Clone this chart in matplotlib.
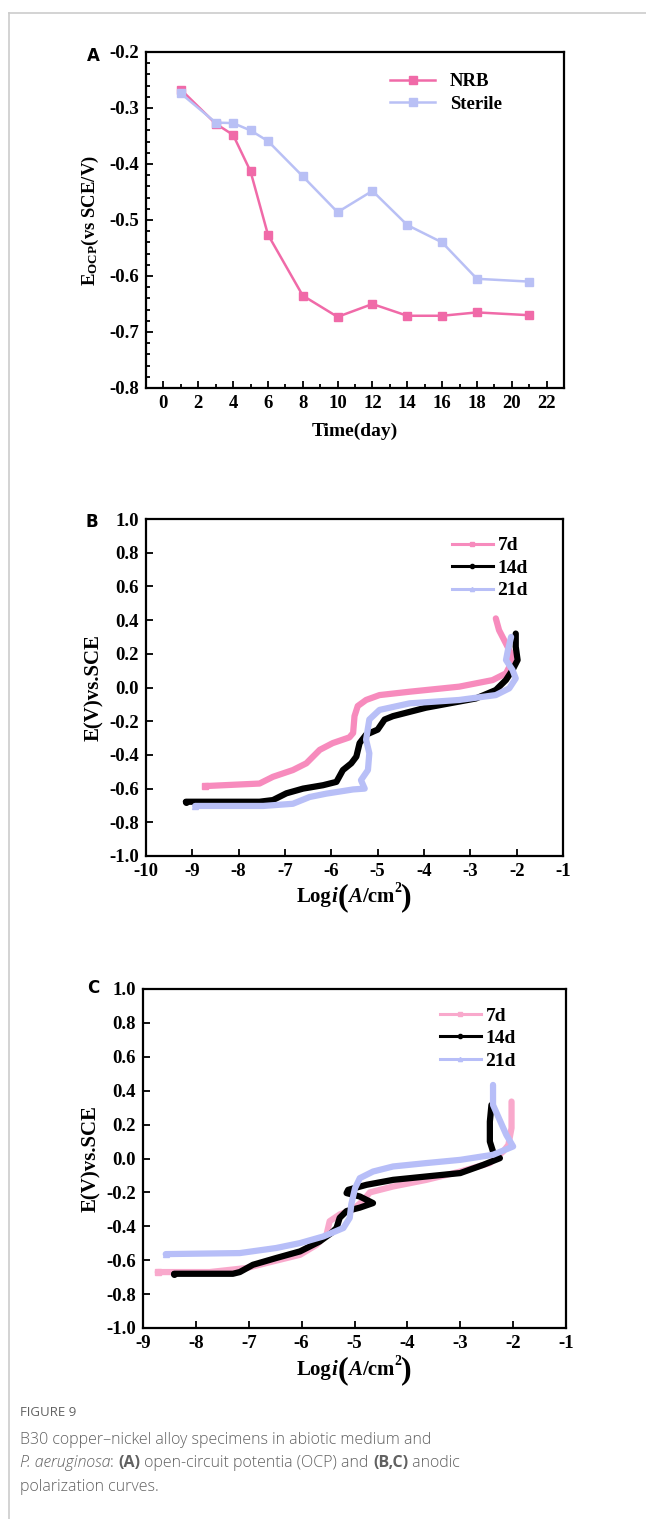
import numpy as np
import matplotlib
matplotlib.use("Agg")
import matplotlib.pyplot as plt
from matplotlib.ticker import AutoMinorLocator
from matplotlib.lines import Line2D

plt.rcParams['font.family'] = 'Liberation Serif'
plt.rcParams['font.weight'] = 'bold'
plt.rcParams['mathtext.fontset'] = 'custom'
plt.rcParams['mathtext.rm'] = 'Liberation Serif:bold'
plt.rcParams['mathtext.it'] = 'Liberation Serif:bold:italic'
plt.rcParams['mathtext.bf'] = 'Liberation Serif:bold'

# panel A: OCP vs time
days_nrb = [1, 3, 4, 5, 6, 8, 10, 12, 14, 16, 18, 21]
ocp_nrb = [-0.267, -0.328, -0.348, -0.413, -0.526, -0.635, -0.673, -0.650, -0.671, -0.671, -0.665, -0.670]
days_ster = [1, 3, 4, 5, 6, 8, 10, 12, 14, 16, 18, 21]
ocp_ster = [-0.274, -0.326, -0.327, -0.340, -0.359, -0.422, -0.486, -0.448, -0.509, -0.540, -0.605, -0.610]

b7_x = [-8.72, -7.55, -7.26, -6.83, -6.54, -6.25, -5.97, -5.61, -5.53, -5.50, -5.43, -5.25, -4.96, -4.31, -3.24, -2.52, -2.23, -2.12, -2.12, -2.23, -2.38, -2.45]
b7_y = [-0.585, -0.570, -0.530, -0.490, -0.450, -0.370, -0.330, -0.296, -0.270, -0.170, -0.110, -0.074, -0.045, -0.025, 0.005, 0.044, 0.084, 0.143, 0.200, 0.260, 0.340, 0.410]
b14_x = [-9.14, -7.55, -7.26, -6.97, -6.61, -6.18, -5.89, -5.75, -5.57, -5.46, -5.39, -5.25, -5.00, -4.85, -4.67, -3.96, -2.88, -2.45, -2.23, -2.09, -1.98, -2.02, -2.02]
b14_y = [-0.678, -0.678, -0.668, -0.628, -0.600, -0.580, -0.560, -0.490, -0.450, -0.410, -0.330, -0.280, -0.250, -0.190, -0.170, -0.120, -0.065, -0.015, 0.045, 0.104, 0.163, 0.242, 0.320]
b21_x = [-8.94, -7.47, -6.83, -6.47, -6.11, -5.53, -5.28, -5.36, -5.21, -5.18, -5.25, -5.18, -4.96, -4.31, -3.24, -2.45, -2.16, -2.02, -2.09, -2.23, -2.19, -2.12]
b21_y = [-0.703, -0.703, -0.690, -0.650, -0.630, -0.605, -0.600, -0.550, -0.490, -0.390, -0.310, -0.190, -0.133, -0.094, -0.074, -0.045, -0.005, 0.054, 0.104, 0.163, 0.220, 0.300]

# panel C
c7_x = [-8.72, -7.74, -7.04, -6.54, -6.03, -5.72, -5.53, -5.47, -5.28, -5.03, -4.84, -4.71, -4.27, -3.64, -3.00, -2.44, -2.19, -2.09, -2.03, -2.03]
c7_y = [-0.670, -0.670, -0.646, -0.607, -0.568, -0.510, -0.450, -0.370, -0.330, -0.300, -0.250, -0.200, -0.165, -0.126, -0.077, -0.027, 0.041, 0.080, 0.180, 0.336]
c14_x = [-8.41, -7.30, -7.17, -6.92, -6.48, -6.03, -5.66, -5.44, -5.34, -5.28, -5.15, -4.90, -4.65, -4.90, -5.15, -5.12, -4.77, -4.27, -3.64, -3.00, -2.56, -2.25, -2.38, -2.44, -2.44, -2.41]
c14_y = [-0.680, -0.680, -0.670, -0.627, -0.587, -0.548, -0.490, -0.440, -0.410, -0.350, -0.310, -0.290, -0.263, -0.224, -0.204, -0.185, -0.155, -0.126, -0.106, -0.086, -0.037, 0.002, 0.041, 0.100, 0.218, 0.316]
c21_x = [-8.57, -7.17, -6.48, -6.03, -5.59, -5.21, -5.09, -5.06, -4.99, -4.90, -4.65, -4.27, -3.64, -3.00, -2.38, -2.00, -2.13, -2.38, -2.38]
c21_y = [-0.564, -0.558, -0.528, -0.499, -0.460, -0.410, -0.350, -0.270, -0.175, -0.116, -0.077, -0.047, -0.027, -0.008, 0.022, 0.071, 0.140, 0.316, 0.434]

labels_pol = ['7d', '14d', '21d']

W, H = 646, 1519
fig = plt.figure(figsize=(W / 100, H / 100), dpi=100)
renderer = fig.canvas.get_renderer()


def ax_at(x0, y0, x1, y1):
    return fig.add_axes([x0 / W, 1 - y1 / H, (x1 - x0) / W, (y1 - y0) / H])


def style(ax):
    for s in ax.spines.values():
        s.set_linewidth(1.6)
    ax.tick_params(which='both', direction='in', top=False, right=False, labelsize=13.5, width=1.3)
    ax.tick_params(which='major', length=5, pad=5)
    ax.tick_params(which='minor', length=3)
    for lab in ax.get_xticklabels() + ax.get_yticklabels():
        lab.set_fontweight('bold')


def chain(cx, base_y, pieces, **kw):
    # place text pieces side by side on one baseline, centred on cx (pixels)
    objs = []
    for txt, size, st, dy in pieces:
        t = fig.text(0, 0, txt, fontsize=size, style=st, va='baseline', ha='left', **kw)
        objs.append((t, dy))
    widths = [t.get_window_extent(renderer).width for t, _ in objs]
    x = cx - sum(widths) / 2
    for (t, dy), w in zip(objs, widths):
        t.set_position((x / W, 1 - (base_y - dy) / H))
        x += w


# ---- A
axA = ax_at(146, 52, 564, 388)
axA.plot(days_nrb, ocp_nrb, '-s', color='#f06aa8', lw=1.8, ms=6, label='NRB')
axA.plot(days_ster, ocp_ster, '-s', color='#b9c0f5', lw=1.8, ms=6, label='Sterile')
axA.set_xlim(-1, 23)
axA.set_ylim(-0.8, -0.2)
axA.xaxis.set_minor_locator(AutoMinorLocator(2))
axA.yaxis.set_minor_locator(AutoMinorLocator(5))
axA.set_xticks(range(0, 23, 2))
axA.set_xticklabels([str(v) for v in range(0, 23, 2)])
axA.set_yticks([-0.8, -0.7, -0.6, -0.5, -0.4, -0.3, -0.2])
axA.set_yticklabels(['-0.8', '-0.7', '-0.6', '-0.5', '-0.4', '-0.3', '-0.2'])
axA.set_xlabel('Time(day)', fontsize=14, fontweight='bold', labelpad=8)
axA.set_ylabel(r'E$_{\mathrm{OCP}}$(vs SCE/V)', fontsize=13.5, fontweight='bold', labelpad=6)
axA.legend(loc='upper right', frameon=False, fontsize=13.5, handlelength=2.4,
           bbox_to_anchor=(0.87, 0.96), borderaxespad=0, labelspacing=0.3)
style(axA)


def pol_panel(ax, xs, ys, colors, markers, xlim, label_base, leg_x):
    for x, y, c, m, lab in zip(xs, ys, colors, markers, labels_pol):
        ax.plot(x, y, '-', color=c, lw=4.5, solid_capstyle='round', solid_joinstyle='round')
        ax.plot(x[:1], y[:1], m, color=c, ms=4)
    handles = [Line2D([], [], color=c, lw=2.2, marker=m, ms=3) for c, m in zip(colors, markers)]
    ax.legend(handles, labels_pol, loc='upper right', frameon=False, fontsize=14,
              handlelength=2.1, handletextpad=0.25, bbox_to_anchor=(leg_x, 0.97),
              borderaxespad=0, labelspacing=0.25)
    ax.set_xlim(*xlim)
    ax.set_ylim(-1.0, 1.0)
    ticks = np.arange(xlim[0], xlim[1] + 0.5, 1)
    ax.set_xticks(ticks)
    ax.set_xticklabels([str(int(v)) for v in ticks])
    yt = np.arange(-1.0, 1.01, 0.2)
    ax.set_yticks(yt)
    ax.set_yticklabels(['%.1f' % v if abs(v) > 1e-9 else '0.0' for v in yt])
    ax.set_ylabel('E(V)vs.SCE', fontsize=15, fontweight='bold', labelpad=4)
    style(ax)
    bb = ax.get_position()
    cx = (bb.x0 + bb.x1) / 2 * W
    chain(cx, label_base, [('Log', 15, 'normal', 0), ('i', 15, 'italic', 0), ('(', 23, 'normal', -3),
                           ('A', 15, 'italic', 0), ('/cm', 15, 'normal', 0), ('2', 10, 'normal', 10),
                           (')', 23, 'normal', -3)], weight='bold')


# ---- B
axB = ax_at(146, 519, 563, 856)
pol_panel(axB, [b7_x, b14_x, b21_x], [b7_y, b14_y, b21_y],
          ['#f78bbd', '#000000', '#b8bff7'], ['s', 'o', '^'], (-10, -1), 902, 0.935)

# ---- C
axC = ax_at(143, 989, 566, 1328)
pol_panel(axC, [c7_x, c14_x, c21_x], [c7_y, c14_y, c21_y],
          ['#f9a9cc', '#000000', '#b7bef8'], ['s', 'o', '^'], (-9, -1), 1375, 0.9)

# panel letters
for lab, (px, py) in zip(['A', 'B', 'C'], [(93, 56), (92, 522), (93, 988)]):
    fig.text(px / W, 1 - py / H, lab, family='DejaVu Sans', weight='bold', fontsize=12,
             ha='center', va='center')

# page frame
fig.add_artist(Line2D([9 / W, 1], [1 - 13 / H, 1 - 13 / H], color='#cccccc', lw=1.2))
fig.add_artist(Line2D([9 / W, 9 / W], [1 - 13 / H, 0], color='#cccccc', lw=1.2))

# caption
gray = '#616161'
cap = dict(family='Open Sans', color=gray, fontsize=11.5)
fig.text(20 / W, 1 - 1413 / H, 'FIGURE 9', family='Open Sans', color=gray, fontsize=9.5,
         weight='normal', va='center')
fig.text(20 / W, 1 - 1440 / H, 'B30 copper\u2013nickel alloy specimens in abiotic medium and',
         va='center', weight='light', **cap)
pieces = [('P. aeruginosa', 'italic', 'light'), (': ', 'normal', 'light'), ('(A)', 'normal', 'bold'),
          (' open-circuit potentia (OCP) and ', 'normal', 'light'), ('(B,C)', 'normal', 'bold'),
          (' anodic', 'normal', 'light')]
prev = fig.text(20 / W, 1 - 1463 / H, pieces[0][0], va='center', style=pieces[0][1],
                weight=pieces[0][2], **cap)
for txt, st, wt in pieces[1:]:
    prev = plt.annotate(txt, xy=(1, 0.5), xycoords=prev, va='center', ha='left',
                        style=st, weight=wt, **cap)
fig.text(20 / W, 1 - 1487 / H, 'polarization curves.', va='center', weight='light', **cap)

fig.savefig('out.png', dpi=100)
